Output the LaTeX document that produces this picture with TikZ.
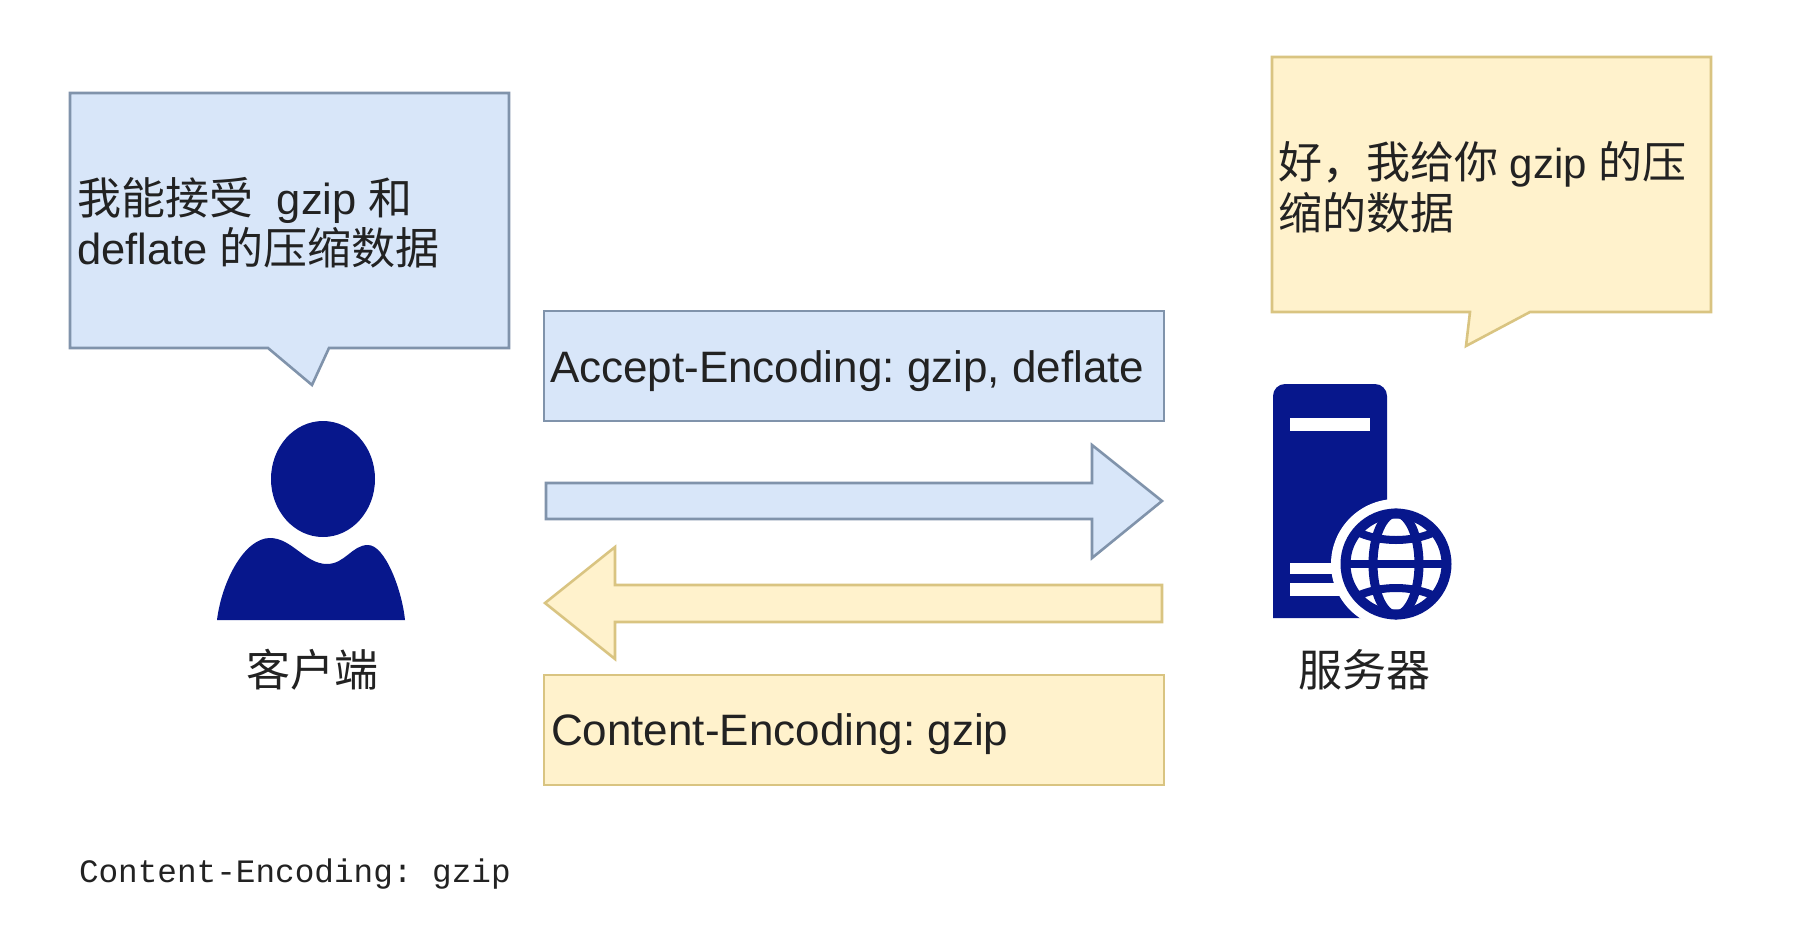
\documentclass[tikz,border=0pt]{standalone}
\usepackage{fontspec}
\setmainfont{Liberation Sans}
\newfontfamily\cjk{Noto Sans CJK SC}
\newfontfamily\monof{Liberation Mono}
\definecolor{bluefill}{HTML}{D8E6F9}
\definecolor{bluestroke}{HTML}{8093AB}
\definecolor{yelfill}{HTML}{FFF2CC}
\definecolor{yelstroke}{HTML}{D9C481}
\definecolor{navy}{HTML}{07178C}
\definecolor{ink}{HTML}{222222}
\tikzset{
  bluepart/.style={fill=bluefill,draw=bluestroke,line width=2.6pt,line join=miter},
  yelpart/.style={fill=yelfill,draw=yelstroke,line width=2.6pt,line join=miter},
  msg/.style={inner sep=0pt,outer sep=0pt,text=ink,anchor=base west,font=\fontsize{44}{50}\selectfont},
  caption/.style={inner sep=0pt,outer sep=0pt,text=ink,font=\cjk\fontsize{44}{50}\selectfont},
  bubble/.style={inner sep=0pt,outer sep=0pt,text=ink,align=left,anchor=north west},
  iconfill/.style={fill=navy,draw=none},
  globeline/.style={draw=navy,fill=none},
  iconcut/.style={fill=white,draw=none}
}
\begin{document}
\frenchspacing
\begin{tikzpicture}[x=1pt,y=-1pt]
\useasboundingbox[fill=white] (0,0) rectangle (1818,930);

% left callout
\draw[bluepart] (70,93) -- (509,93) -- (509,348) -- (329,348) -- (312,385) -- (268,348) -- (70,348) -- cycle;
\node[bubble,font=\fontsize{43.5}{50}\selectfont] (asktext) at (77,177) {{\cjk\fontsize{44}{50}\selectfont 我能接受}\hspace{0.55em}gzip {\cjk\fontsize{44}{50}\selectfont 和}\\deflate {\cjk\fontsize{44}{50}\selectfont 的压缩数据}};

% right callout
\draw[yelpart] (1272,57) -- (1711,57) -- (1711,312) -- (1530,312) -- (1466,346) -- (1470,312) -- (1272,312) -- cycle;
\node[bubble,font=\fontsize{42}{51}\selectfont] (replytext) at (1278,141) {{\cjk\fontsize{44}{51}\selectfont 好，我给你} gzip {\cjk\fontsize{44}{51}\selectfont 的压}\\{\cjk\fontsize{44}{51}\selectfont 缩的数据}};

% header boxes
\draw[bluepart] (544,311) rectangle (1164,421);
\node[msg] (accept) at (550,382) {Accept-Encoding: gzip, deflate};
\draw[yelpart] (544,675) rectangle (1164,785);
\node[msg] (content) at (551,745) {Content-Encoding: gzip};

% block arrows
\draw[bluepart] (546,483) -- (1092,483) -- (1092,445) -- (1162,501) -- (1092,558) -- (1092,519) -- (546,519) -- cycle;
\draw[yelpart] (1162,585) -- (615,585) -- (615,547) -- (545,603) -- (615,659) -- (615,622) -- (1162,622) -- cycle;

% client icon
\fill[iconfill] (323,479) ellipse [x radius=52,y radius=58];
\fill[iconfill] (217,620) .. controls (222,580) and (245,538) .. (270,538)
  .. controls (292,538) and (305,564) .. (327,564)
  .. controls (345,564) and (352,545) .. (368,545)
  .. controls (385,545) and (402,590) .. (405,620) -- cycle;
\node[caption] (client) at (312,670) {客户端};

% server icon
\fill[iconfill,rounded corners=12pt] (1273,618) [sharp corners] -- (1273,500) [rounded corners=12pt] -- (1273,384) -- (1387,384) [sharp corners] -- (1387,618) -- cycle;
\fill[iconcut] (1290,418) rectangle (1370,431);
\fill[iconcut] (1290,563) rectangle (1350,574);
\fill[iconcut] (1290,583) rectangle (1350,596);
\fill[iconcut] (1396,564) circle [radius=65];
\draw[globeline,line width=10pt] (1396,564) circle [radius=50.5];
\draw[globeline,line width=9pt] (1396,564) ellipse [x radius=23,y radius=51];
\draw[globeline,line width=8pt] (1345,564) -- (1447,564);
\draw[globeline,line width=8pt] (1355,531) .. controls (1380,543) and (1412,543) .. (1437,531);
\draw[globeline,line width=8pt] (1355,597) .. controls (1380,585) and (1412,585) .. (1437,597);
\node[caption] (server) at (1364,670) {服务器};

% code line
\node[inner sep=0pt,outer sep=0pt,anchor=base west,text=ink,font=\monof\fontsize{32.7}{40}\selectfont] (code) at (79,882) {Content-Encoding: gzip};
\end{tikzpicture}
\end{document}
